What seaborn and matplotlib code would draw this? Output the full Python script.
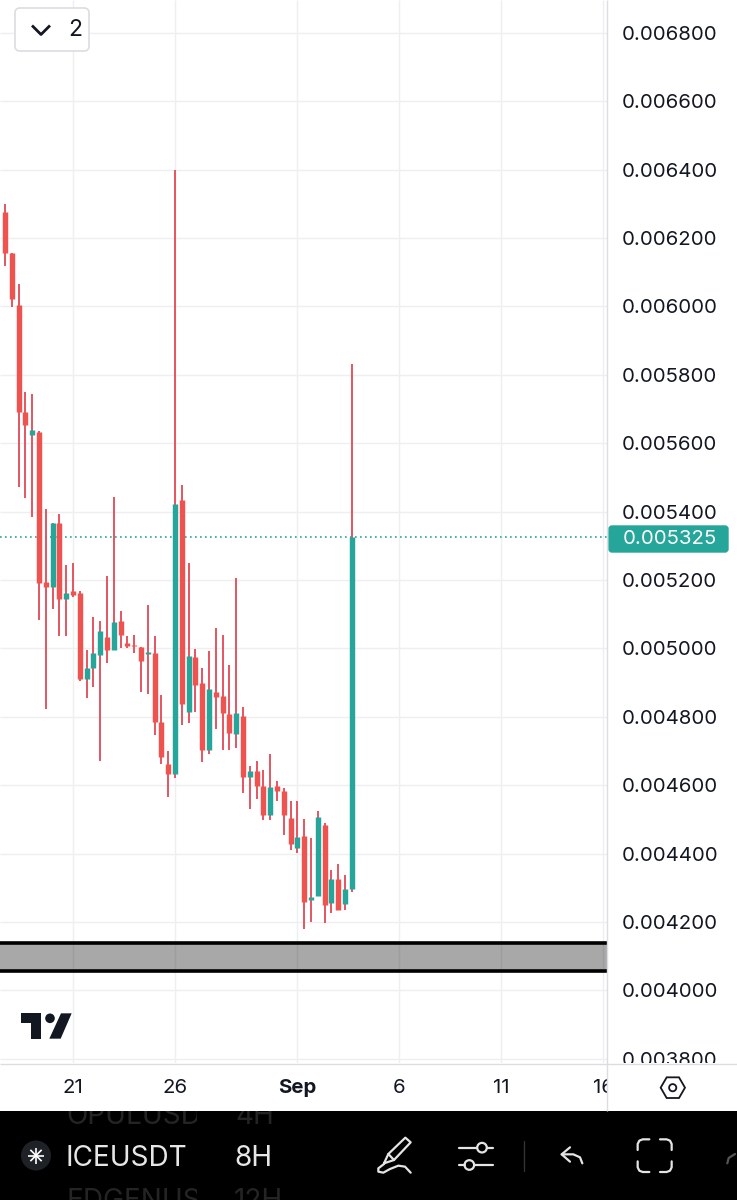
import numpy as np
import pandas as pd
import seaborn as sns
import matplotlib
matplotlib.use("Agg")
import matplotlib.pyplot as plt
from matplotlib.patches import Rectangle, FancyBboxPatch, Polygon, Circle
from matplotlib.transforms import Bbox

# ---- data (prices, 8H candles; index 0 = the "26" candle)
candle_index = list(range(-26, 27))
opens = [.006101,.006276,.006156,.006004,.005691,.005624,.005633,.005194,.005180,.005367,.005144,.005168,.005162,
         .004911,.004943,.004981,.005033,.004995,.005080,.005016,.005010,.005004,.004984,.004987,.004785,.004662,
         .004633,.005434,.004814,.004975,.004899,.004703,.004873,.004861,.004808,.004750,.004802,.004624,.004642,
         .004598,.004513,.004598,.004583,.004504,.004416,.004451,.004264,.004276,.004484,.004256,.004326,.004253,.004296]
closes = [.006273,.006156,.006022,.005691,.005653,.005639,.005191,.005180,.005367,.005144,.005162,.005156,.004911,
          .004943,.004987,.005051,.004995,.005077,.005039,.005007,.005007,.004963,.004989,.004785,.004682,.004633,
          .005422,.004837,.004978,.004893,.004703,.004881,.004858,.004811,.004753,.004811,.004624,.004642,.004598,
          .004513,.004595,.004583,.004513,.004428,.004449,.004258,.004273,.004507,.004250,.004326,.004235,.004296,.005325]
highs = [.006297,.006299,.006156,.006066,.005750,.005744,.005636,.005408,.005367,.005393,.005244,.005250,.005168,
         .004995,.005092,.005080,.005212,.005443,.005109,.005036,.005039,.005004,.005127,.005036,.004864,.004700,
         .006399,.005478,.005250,.004998,.004943,.004992,.005060,.005039,.004951,.005206,.004829,.004656,.004671,
         .004644,.004691,.004612,.004592,.004554,.004554,.004501,.004446,.004525,.004489,.004352,.004370,.004337,.005832]
lows = [.006101,.006118,.005998,.005472,.005440,.005384,.005083,.004823,.005115,.005036,.005036,.005150,.004905,
        .004855,.004887,.004671,.004957,.004995,.005001,.005001,.004987,.004873,.004867,.004747,.004662,.004566,
        .004621,.004776,.004782,.004814,.004668,.004691,.004764,.004703,.004703,.004709,.004577,.004530,.004560,
        .004498,.004498,.004554,.004454,.004411,.004402,.004180,.004200,.004276,.004197,.004226,.004235,.004235,.004288]

price_ticks = [.0038,.0040,.0042,.0044,.0046,.0048,.0050,.0052,.0054,.0056,.0058,.0060,.0062,.0064,.0066,.0068]
date_ticks = [-15, 0, 18, 33, 48, 63]
date_labels = ["21", "26", "Sep", "6", "11", "16"]
last_price = 0.005325
zone_top, zone_bottom = 0.004139, 0.004057

RED, TEAL, WICK = "#ef5350", "#26a69a", "#e2505c"
GRID = "#eeeff1"
INK = "#131722"

sns.set_theme(style="whitegrid", rc={"axes.edgecolor": "white", "grid.color": GRID, "grid.linewidth": 1.0,
                                     "lines.solid_capstyle": "butt", "axes.linewidth": 0})
plt.rcParams["font.family"] = ["Inter", "DejaVu Sans"]

W, H = 737, 1200
fig = plt.figure(figsize=(W / 100, H / 100), dpi=100, facecolor="white")
AX_R, AX_B = 607, 1063
ax = fig.add_axes([0, 1 - AX_B / H, AX_R / W, AX_B / H])

df = pd.DataFrame({"candle": candle_index, "open": opens, "close": closes, "high": highs, "low": lows})
df["direction"] = np.where(df["close"] >= df["open"], "up", "down")
wicks = df.melt(id_vars=["candle"], value_vars=["low", "high"], value_name="price")
bodies = df.melt(id_vars=["candle", "direction"], value_vars=["open", "close"], value_name="price")

sns.lineplot(data=wicks, x="candle", y="price", units="candle", estimator=None, sort=False,
             color=WICK, lw=1.35, ax=ax, legend=False, zorder=3)
sns.lineplot(data=bodies, x="candle", y="price", units="candle", hue="direction", estimator=None, sort=False,
             palette={"up": TEAL, "down": RED}, lw=3.9, ax=ax, legend=False, zorder=4)

ax.set_xlim(-175 / 6.8, (AX_R - 175) / 6.8)
ax.set_ylim(0.0042 - (AX_B - 922) * 2.924e-6, 0.0042 + 922 * 2.924e-6)
ax.set_xlabel(""); ax.set_ylabel("")
ax.yaxis.tick_right()
ax.set_yticks(price_ticks, [f"{p:.6f}" for p in price_ticks])
ax.set_xticks(date_ticks, date_labels)
ax.tick_params(axis="y", length=0, pad=10.8, labelsize=14.7, labelcolor=INK)
ax.tick_params(axis="x", length=0, pad=11.2, labelsize=14.7, labelcolor=INK)
ax.grid(True, color=GRID, lw=1.0)
ax.set_axisbelow(True)
for lab in ax.get_xticklabels():
    if lab.get_text() == "Sep":
        lab.set_fontweight("bold")
    lab.set_clip_on(True)
    lab.set_clip_box(Bbox.from_extents(0, 0, AX_R, H))
for lab in ax.get_yticklabels():
    lab.set_clip_on(True)
    lab.set_clip_box(Bbox.from_extents(AX_R, H - AX_B, W, H))

# drawn price zone and last-price line
ax.axhspan(zone_bottom, zone_top, color="black", alpha=0.34, lw=0, zorder=2)
ax.axhline(zone_top, color="black", lw=2.6, zorder=2.5)
ax.axhline(zone_bottom, color="black", lw=2.6, zorder=2.5)
ax.axhline(last_price, color=TEAL, lw=1.2, ls=(0, (1, 2.0)), zorder=2.2)

# ---- interface furniture, in pixel coordinates
ov = fig.add_axes([0, 0, 1, 1], zorder=5)
ov.set_xlim(0, W); ov.set_ylim(H, 0); ov.axis("off"); ov.patch.set_alpha(0)

ov.plot([607.5, 607.5], [0, 1111], color="#dcdde0", lw=1.0)
ov.plot([0, W], [AX_B + 0.5, AX_B + 0.5], color="#dcdde0", lw=1.0)
ov.add_patch(Rectangle((0, 1111), W, 89, color="black", lw=0))

# last price tag
ov.add_patch(FancyBboxPatch((609, 526), 119, 26, boxstyle="round,pad=0,rounding_size=3", fc=TEAL, ec=TEAL, lw=1))
ov.text(670, 539, "0.005325", color="white", fontsize=14.7, ha="center", va="center")

# collapse button
ov.add_patch(FancyBboxPatch((15, 8), 74, 43, boxstyle="round,pad=0,rounding_size=5", fc="white", ec="#dcdde0", lw=1.2))
ov.plot([32, 41, 50], [25.5, 34.5, 25.5], color=INK, lw=2.0)
ov.text(75, 30, "2", color=INK, fontsize=16.5, ha="center", va="center")

def zoomed(pts, ox, oy):
    return [(ox + x / 3, oy + y / 3) for x, y in pts]

# TradingView logo
for pts in ([(62, 40), (122, 40), (122, 116), (92, 116), (92, 70), (62, 70)],
            [(183, 40), (215, 40), (182, 116), (148, 116)]):
    ov.add_patch(Polygon(zoomed(pts, 0, 1000), closed=True, fc=INK, lw=0))
ov.add_patch(Circle((50, 1018.3), 4.8, fc=INK, lw=0))

# settings hexagon
hexa = [(872, 263), (890, 232), (927, 232), (945, 263), (927, 294), (890, 294)]
ov.add_patch(Polygon(zoomed(hexa, 370, 1000), closed=True, fc="white", ec=INK, lw=1.3))
ov.add_patch(Circle((672.7, 1087.7), 3.6, fc="white", ec=INK, lw=1.3))

# bottom bar text, clipped to the bar
for s, x, y, c in [("OPULUSD", 66.5, 1124, "#242424"), ("4H", 235, 1124, "#242424"),
                   ("ICEUSDT", 66, 1166, "#e6e6e6"), ("8H", 234, 1166, "#e6e6e6"),
                   ("EDGENUS", 66.5, 1209, "#242424"), ("12H", 234, 1209, "#242424")]:
    t = ov.text(x, y, s, color=c, fontsize=20.1, ha="left", va="baseline")
    t.set_clip_on(True)
    t.set_clip_box(Bbox.from_extents(0, 0, 300 if x > 200 else 197, H - 1111))

# coin badge
ov.add_patch(Circle((36, 1155.5), 15, fc="#1e2126", lw=0))
for a in np.deg2rad(np.arange(0, 180, 45)):
    ov.plot([36 - 8 * np.cos(a), 36 + 8 * np.cos(a)], [1155.5 - 8 * np.sin(a), 1155.5 + 8 * np.sin(a)],
            color="white", lw=1.2)

# toolbar icons
IC = "#e4e4e4"
def stroke(pts, color=IC, lw=1.6):
    p = zoomed(pts, 370, 1000)
    ov.plot([q[0] for q in p], [q[1] for q in p], color=color, lw=lw, solid_capstyle="round", solid_joinstyle="round")

stroke([(42, 490), (55, 462), (106, 413), (122, 427), (72, 480), (42, 490)])
stroke([(55, 462), (72, 480)])
stroke([(122, 518), (105, 500), (85, 497), (60, 507), (40, 518), (25, 515), (25, 505), (42, 492)])
stroke([(268, 443), (322, 443)]); stroke([(350, 443), (368, 443)])
stroke([(268, 495), (284, 495)]); stroke([(314, 495), (368, 495)])
ov.add_patch(Circle(zoomed([(336, 443)], 370, 1000)[0], 4.8, fc="none", ec=IC, lw=1.6))
ov.add_patch(Circle(zoomed([(298, 495)], 370, 1000)[0], 4.8, fc="none", ec=IC, lw=1.6))
stroke([(462, 422), (462, 512)], color="#333333", lw=1.0)
stroke([(600, 442), (575, 463), (600, 485)])
stroke([(575, 463), (610, 463), (630, 472), (637, 490)])
stroke([(803, 450), (803, 432), (808, 422), (818, 418), (838, 418)])
stroke([(870, 418), (890, 418), (900, 422), (905, 432), (905, 450)])
stroke([(803, 484), (803, 502), (808, 512), (818, 516), (838, 516)])
stroke([(870, 516), (890, 516), (900, 512), (905, 502), (905, 484)])
stroke([(1072, 490), (1076, 474), (1095, 462)], color="#555555")

fig.savefig("out.png", dpi=100, facecolor="white")
